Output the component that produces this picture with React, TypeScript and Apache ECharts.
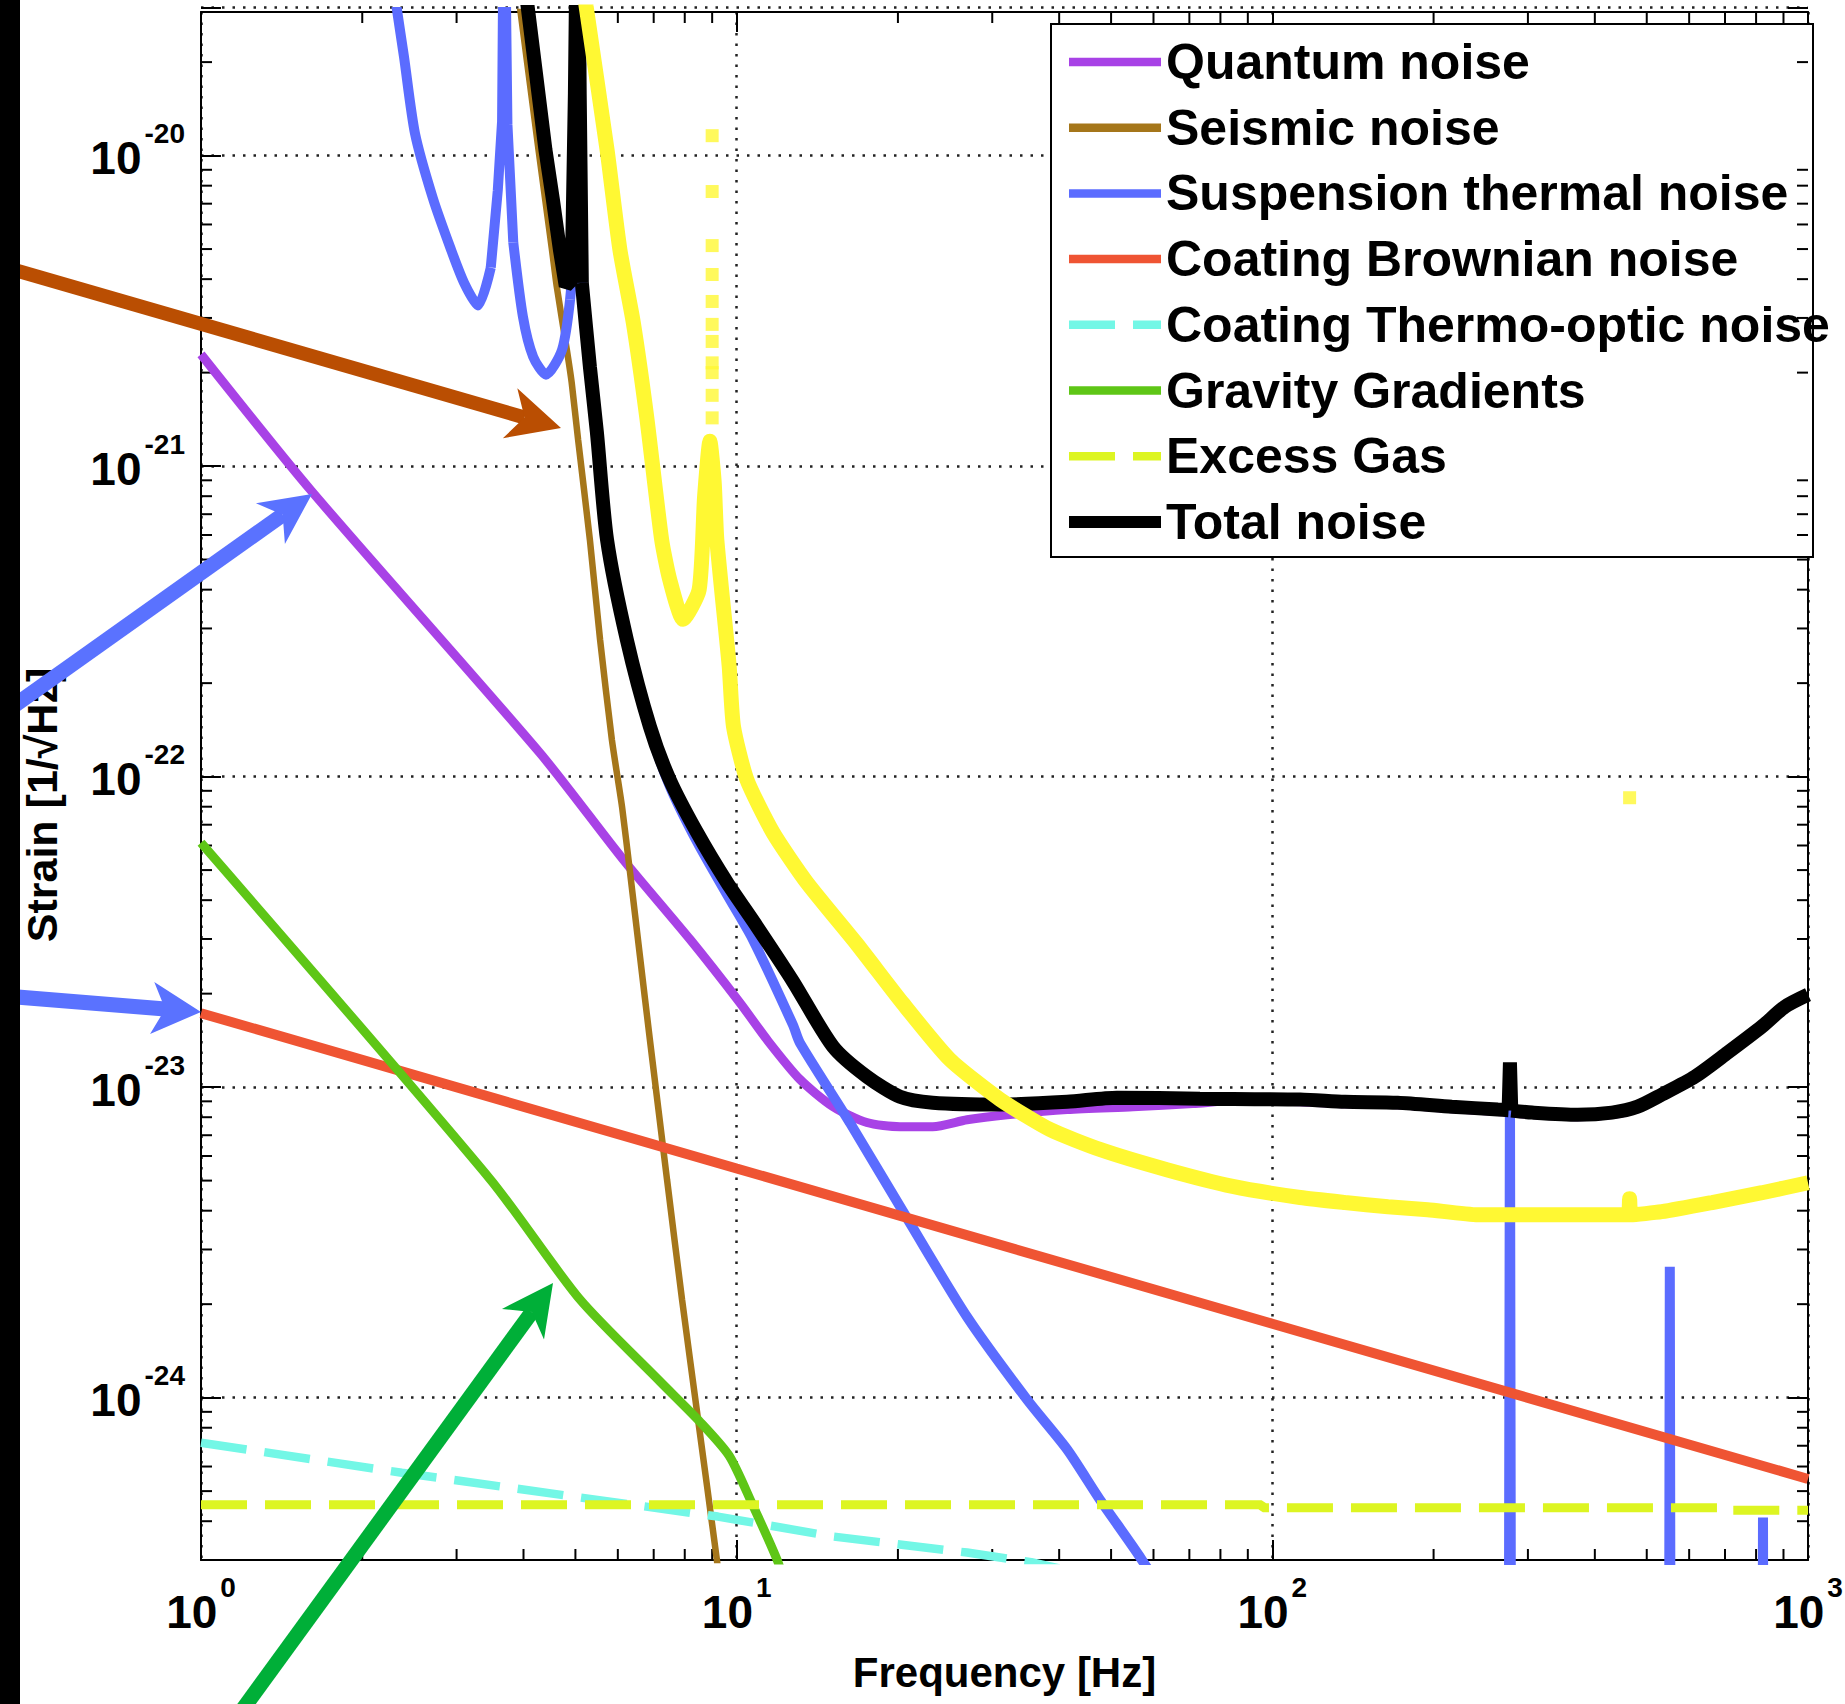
import React, { useEffect, useRef } from "react";
import * as echarts from "echarts";

const WIDTH = 1845;
const HEIGHT = 1704;
const FONT = "'Liberation Sans', Arial, Helvetica, sans-serif";

type P = [number, number];

// ---- Data: [frequency Hz, strain 1/sqrt(Hz)] ----
const quantumNoise: P[] = [
  [1, 2.29e-21], [1.607, 8.32e-22], [4.295, 1.19e-22], [6.138, 5.41e-23], [8.185, 2.99e-23],
  [10.14, 1.87e-23], [11.4, 1.42e-23], [13.12, 1.06e-23], [15.14, 8.65e-24], [17.5, 7.69e-24],
  [20.18, 7.46e-24], [23.23, 7.46e-24], [26.92, 7.85e-24], [31.99, 8.15e-24], [41.4, 8.47e-24],
  [54.95, 8.65e-24], [71.12, 8.85e-24], [85.0, 9.05e-24], [112.7, 8.98e-24], [136.6, 8.84e-24],
  [171.4, 8.78e-24], [216.3, 8.52e-24], [263.6, 8.35e-24], [305.5, 8.16e-24], [371.5, 8.03e-24],
  [430.5, 8.16e-24], [480.8, 8.52e-24], [533.3, 9.32e-24], [615.2, 1.065e-23], [707.9, 1.272e-23],
  [820.4, 1.544e-23], [905.7, 1.789e-23], [1000, 1.957e-23],
];

const seismicNoise: P[] = [
  [3.89, 3.55e-20], [4.266, 1.045e-20], [4.52, 4.98e-21], [4.613, 3.8e-21], [4.819, 2.37e-21],
  [4.92, 1.86e-21], [5.058, 1.216e-21], [5.321, 5.79e-22], [5.559, 2.76e-22], [5.848, 1.315e-22],
  [6.109, 8.0e-23], [6.324, 4.91e-23], [6.6, 2.63e-23], [6.887, 1.42e-23], [7.413, 5.04e-24],
  [7.907, 2.07e-24], [8.472, 8.49e-25], [9.183, 3.01e-25], [9.441, 2.0e-25],
];

const suspensionThermal: P[] = [
  [2.265, 3.98e-20], [2.323, 2.93e-20], [2.393, 2.08e-20], [2.509, 1.178e-20], [2.71, 7.28e-21],
  [2.924, 5.02e-21], [3.097, 3.9e-21], [3.289, 3.29e-21], [3.475, 4.36e-21], [3.581, 7.71e-21],
  [3.648, 1.29e-20], [3.681, 1.0e-19], [3.733, 1.26e-20], [3.828, 5.25e-21], [3.99, 3.03e-21],
  [4.169, 2.25e-21], [4.406, 1.97e-21], [4.721, 2.37e-21], [4.887, 3.44e-21], [4.92, 3.89e-21],
  [4.989, 1.41e-20], [5.047, 7.94e-20], [5.093, 1.41e-20], [5.14, 3.8e-21], [5.321, 2.065e-21],
  [5.483, 1.274e-21], [5.728, 5.73e-22], [6.237, 2.72e-22], [6.887, 1.413e-22], [7.499, 9.33e-23],
  [8.433, 6.17e-23], [9.594, 4.17e-23], [10.72, 2.99e-23], [12.74, 1.585e-23], [13.12, 1.39e-23],
  [16.26, 7.69e-24], [21.04, 3.66e-24], [26.92, 1.82e-24], [34.83, 9.86e-25], [41.4, 6.81e-25],
  [47.64, 4.7e-25], [56.89, 3.03e-25], [70.79, 1.66e-25], [125.9, 3.98e-26], [275.4, 3.98e-27],
  [277.7, 1.12e-23], [279.9, 3.98e-27], [548.3, 2.51e-27], [552.1, 2.64e-24], [555.9, 2.51e-27],
  [818.5, 2.51e-27], [824.1, 4.11e-25], [829.8, 2.51e-27], [1000, 2.0e-27],
];

const coatingBrownian: P[] = [
  [1, 1.73e-23], [10, 5.47e-24], [100, 1.73e-24], [1000, 5.47e-25],
];

const coatingThermoOptic: P[] = [
  [1, 7.16e-25], [2.371, 5.73e-25], [4.966, 4.8e-25], [9.226, 4.14e-25], [15.14, 3.57e-25],
  [26.92, 3.17e-25], [35.48, 2.95e-25], [40, 2.82e-25],
];

const gravityGradients: P[] = [
  [1, 6.12e-23], [3.467, 5.05e-24], [5.093, 2.075e-24], [7.194, 1.127e-24], [8.531, 8.38e-25],
  [9.683, 6.5e-25], [10.67, 4.58e-25], [11.91, 2.99e-25], [12.5, 2.3e-25],
];

const excessGas: P[] = [
  [1, 4.52e-25], [95.5, 4.52e-25], [96, 4.42e-25], [703, 4.42e-25], [706, 4.34e-25], [1000, 4.34e-25],
];

const totalNoise: P[] = [
  [3.89, 5.62e-20], [4.083, 2.91e-20], [4.395, 1.045e-20], [4.539, 7.21e-21], [4.677, 4.98e-21],
  [4.797, 3.8e-21], [4.92, 3.98e-21], [4.989, 1.585e-20], [5.047, 1.0e-19], [5.093, 1.585e-20],
  [5.14, 3.89e-21], [5.321, 2.09e-21], [5.483, 1.288e-21], [5.728, 5.79e-22], [6.237, 2.76e-22],
  [6.887, 1.449e-22], [7.499, 9.77e-23], [8.433, 6.61e-23], [9.594, 4.56e-23], [10.91, 3.29e-23],
  [12.74, 2.19e-23], [15.14, 1.349e-23], [17.5, 1.081e-23], [20.18, 9.31e-24], [23.23, 8.91e-24],
  [31.05, 8.79e-24], [41.4, 8.97e-24], [51.29, 9.25e-24], [73.28, 9.18e-24], [112.7, 9.12e-24],
  [136.6, 8.97e-24], [171.4, 8.91e-24], [216.3, 8.65e-24], [263.6, 8.47e-24], [276.1, 8.43e-24],
  [277.7, 1.2e-23], [279.3, 8.4e-24], [305.5, 8.28e-24], [371.5, 8.15e-24], [430.5, 8.28e-24],
  [480.8, 8.65e-24], [533.3, 9.46e-24], [615.2, 1.081e-23], [707.9, 1.291e-23], [820.4, 1.567e-23],
  [905.7, 1.816e-23], [1000, 1.986e-23],
];

// Bright yellow curve (not in the legend)
const referenceCurve: P[] = [
  [5.07, 4.47e-20], [5.236, 3.02e-20], [5.728, 1.045e-20], [6.053, 4.98e-21], [6.412, 2.9e-21],
  [6.792, 1.442e-21], [7.244, 5.79e-22], [7.499, 4.31e-22], [7.943, 3.21e-22], [8.511, 4.0e-22],
  [8.71, 7.94e-22], [8.913, 1.202e-21], [9.078, 8.91e-22], [9.183, 5.79e-22], [9.683, 2.27e-22],
  [9.863, 1.452e-22], [10.45, 9.77e-23], [11.7, 6.59e-23], [13.52, 4.56e-23], [16.79, 2.88e-23],
  [20.42, 1.862e-23], [25.0, 1.227e-23], [31.05, 9.12e-24], [38.46, 7.3e-24], [47.64, 6.3e-24],
  [63.53, 5.42e-24], [84.33, 4.79e-24], [112.7, 4.41e-24], [136.6, 4.25e-24], [164.4, 4.12e-24],
  [195.0, 4.03e-24], [242.1, 3.88e-24], [322.8, 3.88e-24], [430.5, 3.88e-24], [461.3, 3.88e-24],
  [464.5, 4.37e-24], [467.7, 3.88e-24], [533.3, 3.97e-24], [662.2, 4.25e-24], [820.4, 4.57e-24],
  [1000, 4.92e-24],
];

// Isolated samples of the yellow curve's sharp resonances
const referenceDots: P[] = [
  [9.0, 1.159e-20], [9.0, 7.66e-21], [9.0, 5.13e-21], [9.0, 4.14e-21], [9.0, 3.39e-21],
  [9.0, 2.86e-21], [9.0, 2.52e-21], [9.0, 2.15e-21], [9.0, 2.0e-21], [9.0, 1.69e-21],
  [9.0, 1.43e-21], [464.5, 8.55e-23],
];

const seriesNames = [
  "Quantum noise", "Seismic noise", "Suspension thermal noise", "Coating Brownian noise",
  "Coating Thermo-optic noise", "Gravity Gradients", "Excess Gas", "Total noise",
];

// Frequency ranges [from, to] drawn as smooth curves vs. sharp (resonance) pieces
const suspensionPieces: [number, number, boolean][] = [
  [2.265, 3.475, true], [3.475, 3.828, false], [3.828, 4.887, true],
  [4.887, 5.14, false], [5.14, 70.79, true], [70.79, 1000, false],
];
const totalPieces: [number, number, boolean][] = [
  [3.89, 5.14, false], [5.14, 276.1, true], [276.1, 279.3, false], [279.3, 1000, true],
];

const X_MIN = 1;
const X_MAX = 1000;
const Y_MIN = 3e-25;
const Y_MAX = 2.9e-20;
const minorMultipliers = [2, 3, 4, 5, 6, 7, 8, 9];
const xDecades = [1, 10, 100];
const yDecades = [1e-25, 1e-24, 1e-23, 1e-22, 1e-21, 1e-20];

const MAJOR_TICK = 20;
const MINOR_TICK = 11;

function buildMinorTicks() {
  const out: number[][] = [];
  xDecades.forEach((d) =>
    minorMultipliers.forEach((m) => {
      const v = m * d;
      if (v > X_MIN * 1.001 && v < X_MAX * 0.999) out.push([v, 1e-22, 0]);
    })
  );
  yDecades.forEach((d) =>
    minorMultipliers.forEach((m) => {
      const v = m * d;
      if (v > Y_MIN * 1.001 && v < Y_MAX * 0.999) out.push([2, v, 1]);
    })
  );
  return out;
}

const labelRich = {
  b: {
    fontFamily: FONT, fontWeight: "bold", fontSize: 46, lineHeight: 46, color: "#000",
    verticalAlign: "top", padding: [15.5, 0, 0, 0],
  },
  s: {
    fontFamily: FONT, fontWeight: "bold", fontSize: 28, lineHeight: 72, color: "#000",
    verticalAlign: "top", padding: [0, 0, 0, 3],
  },
};

function decadeLabel(v: number) {
  const e = Math.log10(v);
  const r = Math.round(e);
  if (Math.abs(e - r) > 1e-6) return "";
  return `{b|10}{s|${r}}`;
}

function arrow(
  tail: P, tip: P, color: string, shaft: number, headLen: number, headHalf: number, notch: number
) {
  const dx = tip[0] - tail[0];
  const dy = tip[1] - tail[1];
  const L = Math.hypot(dx, dy);
  const ux = dx / L, uy = dy / L;
  const px = -uy, py = ux;
  const bx = tip[0] - ux * headLen, by = tip[1] - uy * headLen;
  const nx = tip[0] - ux * notch, ny = tip[1] - uy * notch;
  return {
    type: "group",
    z: 100,
    children: [
      {
        type: "line", z: 100,
        shape: { x1: tail[0], y1: tail[1], x2: nx, y2: ny },
        style: { stroke: color, lineWidth: shaft },
      },
      {
        type: "polygon", z: 100,
        shape: {
          points: [
            [tip[0], tip[1]],
            [bx + px * headHalf, by + py * headHalf],
            [nx, ny],
            [bx - px * headHalf, by - py * headHalf],
          ],
        },
        style: { fill: color },
      },
    ],
  };
}

function lineSeries(
  name: string, data: P[], color: string, width: number, dashed = false, smooth: number | boolean = false
) {
  return {
    type: "line",
    name,
    data,
    symbol: "none",
    showSymbol: false,
    silent: true,
    clip: true,
    smooth,
    emphasis: { disabled: true },
    itemStyle: { color },
    lineStyle: { color, width, type: dashed ? [46, 18] : "solid" },
  };
}

function piecewise(name: string, data: P[], pieces: [number, number, boolean][], color: string, width: number) {
  return pieces.map(([a, b, sm]) =>
    lineSeries(name, data.filter((p) => p[0] >= a && p[0] <= b), color, width, false, sm ? 0.25 : false)
  );
}

const axisLineStyle = { show: true, onZero: false, lineStyle: { color: "#000", width: 2 } };
const gridDots = { show: true, lineStyle: { color: "#222", width: 2.5, type: [2.5, 8] } };

export default function App() {
  const ref = useRef<HTMLDivElement>(null);

  useEffect(() => {
    document.body.style.margin = "0";
    if (!ref.current) return;
    const chart = echarts.init(ref.current, undefined, {
      renderer: "svg", width: WIDTH, height: HEIGHT,
    });

    const legendData = seriesNames.map((name) => ({
      name,
      lineStyle: { width: name === "Total noise" ? 12 : 8.5 },
    }));

    const option: any = {
      animation: false,
      backgroundColor: "#fff",
      textStyle: { fontFamily: FONT },
      grid: { left: 201, top: 12, width: 1607, height: 1548, containLabel: false, outerBoundsMode: "none" },
      legend: {
        show: true,
        orient: "vertical",
        left: 1063,
        top: 34,
        padding: 0,
        itemGap: 9.7,
        itemWidth: 92,
        itemHeight: 14,
        selectedMode: false,
        data: legendData,
        itemStyle: { color: "rgba(0,0,0,0)", borderWidth: 0, opacity: 0 },
        lineStyle: { width: 8.5 },
        textStyle: { fontFamily: FONT, fontWeight: "bold", fontSize: 50, lineHeight: 56, color: "#000" },
        z: 4,
      },
      xAxis: [
        {
          type: "log", logBase: 10, min: X_MIN, max: X_MAX, position: "bottom",
          name: "Frequency [Hz]", nameLocation: "middle", nameGap: 91,
          nameTextStyle: { fontFamily: FONT, fontWeight: "bold", fontSize: 42, lineHeight: 42, color: "#000" },
          axisLine: axisLineStyle,
          axisTick: { show: true, inside: true, length: MAJOR_TICK, lineStyle: { color: "#000", width: 2 } },
          axisLabel: {
            show: true, margin: 13, interval: 0, showMinLabel: true, showMaxLabel: true,
            formatter: decadeLabel, rich: labelRich, color: "#000",
          },
          splitLine: gridDots,
          minorTick: { show: false },
          minorSplitLine: { show: false },
        },
        {
          type: "log", logBase: 10, min: X_MIN, max: X_MAX, position: "top",
          axisLine: axisLineStyle,
          axisTick: { show: true, inside: true, length: MAJOR_TICK, lineStyle: { color: "#000", width: 2 } },
          axisLabel: { show: false },
          splitLine: { show: false },
        },
      ],
      yAxis: [
        {
          type: "log", logBase: 10, min: Y_MIN, max: Y_MAX, position: "left",
          axisLine: axisLineStyle,
          axisTick: { show: true, inside: true, length: MAJOR_TICK, lineStyle: { color: "#000", width: 2 } },
          axisLabel: {
            show: true, margin: 16, interval: 0, formatter: decadeLabel, rich: labelRich, color: "#000",
          },
          splitLine: gridDots,
          minorTick: { show: false },
          minorSplitLine: { show: false },
        },
        {
          type: "log", logBase: 10, min: Y_MIN, max: Y_MAX, position: "right",
          axisLine: axisLineStyle,
          axisTick: { show: true, inside: true, length: MAJOR_TICK, lineStyle: { color: "#000", width: 2 } },
          axisLabel: { show: false },
          splitLine: { show: false },
        },
      ],
      series: [
        lineSeries("Quantum noise", quantumNoise, "#A842E6", 9, false, 0.25),
        lineSeries("Seismic noise", seismicNoise, "#A5761A", 6.5, false, 0.2),
        ...piecewise("Suspension thermal noise", suspensionThermal, suspensionPieces, "#5B6CFF", 10),
        lineSeries("Coating Brownian noise", coatingBrownian, "#EF5433", 10),
        lineSeries("Coating Thermo-optic noise", coatingThermoOptic, "#73F7E6", 8.5, true),
        lineSeries("Gravity Gradients", gravityGradients, "#5EC616", 9, false, 0.25),
        lineSeries("Excess Gas", excessGas, "#DDF522", 9, true),
        ...piecewise("Total noise", totalNoise, totalPieces, "#000000", 14),
        lineSeries("Reference curve", referenceCurve, "#FFF833", 15, false, 0.2),
        {
          type: "scatter", name: "Reference samples", data: referenceDots,
          symbol: "rect", symbolSize: 13, silent: true,
          itemStyle: { color: "#FFF833" }, emphasis: { disabled: true },
        },
        {
          type: "custom", name: "minor ticks", silent: true, clip: false, z: 3,
          data: buildMinorTicks(),
          encode: { x: 0, y: 1 },
          renderItem: (params: any, api: any) => {
            const cs = params.coordSys;
            const kind = api.value(2);
            const pt = api.coord([api.value(0), api.value(1)]);
            const st = { stroke: "#000", lineWidth: 2 };
            if (kind === 0) {
              const x = pt[0];
              return {
                type: "group",
                children: [
                  { type: "line", shape: { x1: x, y1: cs.y + cs.height, x2: x, y2: cs.y + cs.height - MINOR_TICK }, style: st },
                  { type: "line", shape: { x1: x, y1: cs.y, x2: x, y2: cs.y + MINOR_TICK }, style: st },
                ],
              };
            }
            const y = pt[1];
            return {
              type: "group",
              children: [
                { type: "line", shape: { x1: cs.x, y1: y, x2: cs.x + MINOR_TICK, y2: y }, style: st },
                { type: "line", shape: { x1: cs.x + cs.width, y1: y, x2: cs.x + cs.width - MINOR_TICK, y2: y }, style: st },
              ],
            };
          },
        },
      ],
      graphic: [
        {
          type: "rect", z: 3,
          shape: { x: 1051, y: 24, width: 762, height: 533 },
          style: { fill: "#fff", stroke: "#000", lineWidth: 2 },
        },
        {
          type: "text", z: 50,
          x: 42, y: 805, rotation: Math.PI / 2,
          style: {
            text: "Strain [1/\u221AHz]",
            font: `bold 43px ${FONT}`,
            fill: "#000",
            align: "center",
            verticalAlign: "middle",
            textAlign: "center",
            textVerticalAlign: "middle",
          },
        },
        arrow([-20, 260], [561, 428], "#BA4E02", 14, 53, 26, 38),
        arrow([-20, 730], [312, 494], "#5A72FF", 15, 51, 25, 36),
        arrow([-20, 994], [201, 1012], "#5A72FF", 15, 49, 26, 36),
        arrow([232, 1724], [553, 1283], "#00AF38", 15, 51, 26, 36),
        {
          type: "rect", z: 101,
          shape: { x: 0, y: 0, width: 20, height: HEIGHT },
          style: { fill: "#000" },
        },
      ],
    };

    chart.setOption(option);
    return () => chart.dispose();
  }, []);

  return <div ref={ref} style={{ width: WIDTH, height: HEIGHT }} />;
}
